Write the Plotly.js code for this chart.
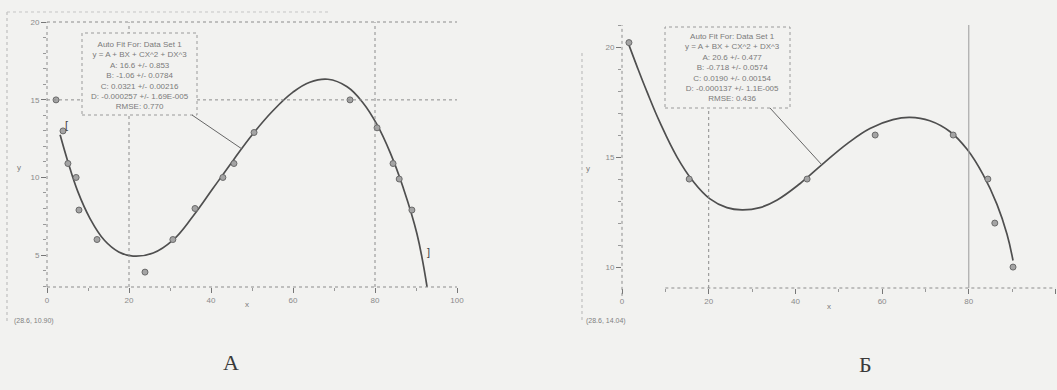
<!DOCTYPE html>
<html><head><meta charset="utf-8">
<script src="https://cdn.plot.ly/plotly-3.0.1.min.js"></script>
<style>html,body{margin:0;padding:0;background:#f2f2f0;}#chart{width:1057px;height:390px;}</style>
</head><body><div id="chart"></div>
<script>
// ---- Chart А data ----
const A_pts_x = [2.2, 3.9, 5.1, 7.1, 7.8, 12.2, 23.9, 30.7, 36.1, 42.9, 45.6, 50.5, 73.9, 80.5, 84.4, 85.9, 89.0];
const A_pts_y = [15.0, 13.0, 10.9, 10.0, 7.9, 6.0, 3.9, 6.0, 8.0, 10.0, 10.9, 12.9, 15.0, 13.2, 10.9, 9.9, 7.9];
const A_fit_x = [3.2, 5.0, 7.5, 10.5, 14.0, 17.5, 21.0, 25.9, 30.7, 35.6, 40.5, 45.4, 50.2, 55.1, 60.0, 64.1, 68.5, 73.2, 77.1, 80.5, 83.7, 86.8, 90.2, 92.7];
const A_fit_y = [12.75, 11.1, 9.1, 7.35, 5.95, 5.2, 4.93, 5.13, 5.96, 7.5, 9.3, 11.1, 12.8, 14.3, 15.5, 16.14, 16.33, 15.85, 14.8, 13.4, 11.6, 9.4, 6.4, 2.94];
const A_fit_text = ["Auto Fit For: Data Set 1", "y = A + BX + CX^2 + DX^3", "A: 16.6 +/- 0.853", "B: -1.06 +/- 0.0784",
  "C: 0.0321 +/- 0.00216", "D: -0.000257 +/- 1.69E-005", "RMSE: 0.770"];
const A_reader = "(28.6, 10.90)";

// ---- Chart Б data ----
const B_pts_x = [1.6, 15.5, 42.7, 58.4, 76.4, 84.4, 86.0, 90.2];
const B_pts_y = [20.2, 14.0, 14.0, 16.0, 16.0, 14.0, 12.0, 10.0];
const B_fit_x = [1.4, 3.5, 5.8, 8.8, 12.7, 16.4, 20.3, 24.2, 27.7, 31.8, 35.8, 41.1, 46.4, 51.9, 57.2, 62.5, 66.4, 71.0, 75.7, 79.6, 83.3, 86.5, 88.8, 90.2];
const B_fit_y = [20.2, 19.1, 17.95, 16.55, 15.0, 13.9, 13.1, 12.7, 12.6, 12.7, 13.05, 13.8, 14.7, 15.6, 16.3, 16.7, 16.8, 16.65, 16.15, 15.35, 14.2, 12.85, 11.5, 10.3];
const B_fit_text = ["Auto Fit For: Data Set 1", "y = A + BX + CX^2 + DX^3", "A: 20.6 +/- 0.477", "B: -0.718 +/- 0.0574",
  "C: 0.0190 +/- 0.00154", "D: -0.000137 +/- 1.1E-005", "RMSE: 0.436"];
const B_reader = "(28.6, 14.04)";

const panelLabels = ["А", "Б"];

// ---- layout helpers ----
const W = 1057, H = 390;
const px = v => v / W, py = v => 1 - v / H;
const FONT = "Liberation Sans, Arial, sans-serif";
const tickGray = "#8a8a8a";

const markerStyle = {symbol: "circle", size: 6, color: "#a4a4a4", line: {color: "#6a6a6a", width: 1}};
const lineStyle = {color: "#4f4f4f", width: 1.7, shape: "spline", smoothing: 1.2};

const traces = [
  {x: A_fit_x, y: A_fit_y, xaxis: "x", yaxis: "y", mode: "lines", line: lineStyle, hoverinfo: "skip"},
  {x: A_pts_x, y: A_pts_y, xaxis: "x", yaxis: "y", mode: "markers", marker: markerStyle},
  {x: B_fit_x, y: B_fit_y, xaxis: "x2", yaxis: "y2", mode: "lines", line: lineStyle, hoverinfo: "skip"},
  {x: B_pts_x, y: B_pts_y, xaxis: "x2", yaxis: "y2", mode: "markers", marker: markerStyle}
];

function axisBase(extra) {
  return Object.assign({
    showgrid: false, zeroline: false, showline: false,
    ticks: "outside", ticklen: 5, tickwidth: 1, tickcolor: "#777",
    tickfont: {family: FONT, size: 8, color: tickGray}
  }, extra);
}
const minorX = {ticks: "outside", ticklen: 3, tickcolor: "#999", dtick: 10, showgrid: false};
const minorY = {ticks: "outside", ticklen: 3, tickcolor: "#999", dtick: 1, showgrid: false};

const dot = {color: "#8c8c8c", width: 1, dash: "dot"};
const shapes = [
  // chart A frame & grid
  {type: "line", xref: "paper", yref: "paper", x0: px(7), x1: px(7), y0: py(12), y1: py(322), line: {color: "#b5b5b5", width: 1, dash: "dot"}},
  {type: "line", xref: "paper", yref: "paper", x0: px(7), x1: px(330), y0: py(12), y1: py(12), line: {color: "#c5c5c5", width: 1, dash: "dot"}},
  {type: "line", xref: "x domain", yref: "y domain", x0: 0, x1: 0, y0: 0, y1: 1, line: dot},
  {type: "line", xref: "x domain", yref: "y domain", x0: 0, x1: 1, y0: 0, y1: 0, line: dot},
  {type: "line", xref: "x domain", yref: "y domain", x0: 0, x1: 1, y0: 1, y1: 1, line: dot},
  {type: "line", xref: "x domain", yref: "y", x0: 0, x1: 1, y0: 15, y1: 15, line: dot},
  {type: "line", xref: "x", yref: "y domain", x0: 20, x1: 20, y0: 0, y1: 1, line: dot},
  {type: "line", xref: "x", yref: "y domain", x0: 80, x1: 80, y0: 0, y1: 1, line: dot},
  {type: "rect", xref: "paper", yref: "paper", x0: px(82), x1: px(197), y0: py(115), y1: py(33), fillcolor: "#f2f2f0", line: {color: "#9a9a9a", width: 1, dash: "dot"}},
  {type: "line", xref: "paper", yref: "paper", x0: px(192), x1: px(242), y0: py(115), y1: py(149), line: {color: "#666", width: 1}},
  // chart Б frame & grid
  {type: "line", xref: "paper", yref: "paper", x0: px(582), x1: px(582), y0: py(53), y1: py(322), line: {color: "#b5b5b5", width: 1, dash: "dot"}},
  {type: "line", xref: "x2 domain", yref: "y2 domain", x0: 0, x1: 0, y0: -0.03, y1: 1, line: dot},
  {type: "line", xref: "x2 domain", yref: "y2 domain", x0: 0.1, x1: 1, y0: 0, y1: 0, line: dot},
  {type: "line", xref: "x2", yref: "y2 domain", x0: 20, x1: 20, y0: 0, y1: 1, line: dot},
  {type: "line", xref: "x2", yref: "y2 domain", x0: 80, x1: 80, y0: 0, y1: 1, line: {color: "#9a9a9a", width: 1}},
  {type: "rect", xref: "paper", yref: "paper", x0: px(665), x1: px(790), y0: py(108), y1: py(27), fillcolor: "#f2f2f0", line: {color: "#9a9a9a", width: 1, dash: "dot"}},
  {type: "line", xref: "paper", yref: "paper", x0: px(770), x1: px(822), y0: py(108), y1: py(165), line: {color: "#666", width: 1}}
];

const smallFont = {family: FONT, size: 8, color: "#7a7a7a"};
const annotations = [
  {xref: "paper", yref: "paper", x: px(140), y: py(75), xanchor: "center", yanchor: "middle", showarrow: false, align: "center",
   text: A_fit_text.join("<br>"), font: smallFont},
  {xref: "paper", yref: "paper", x: px(732), y: py(67), xanchor: "center", yanchor: "middle", showarrow: false, align: "center",
   text: B_fit_text.join("<br>"), font: smallFont},
  {xref: "paper", yref: "paper", x: px(63), y: py(117), showarrow: false, text: "[", font: {family: FONT, size: 11, color: "#444"}},
  {xref: "paper", yref: "paper", x: px(428), y: py(252), showarrow: false, text: "]", font: {family: FONT, size: 11, color: "#444"}},
  {xref: "paper", yref: "paper", x: px(243), y: py(311), showarrow: false, text: "x", font: smallFont},
  {xref: "paper", yref: "paper", x: px(15), y: py(167), showarrow: false, text: "y", font: smallFont},
  {xref: "paper", yref: "paper", x: px(833), y: py(313), showarrow: false, text: "x", font: smallFont},
  {xref: "paper", yref: "paper", x: px(588), y: py(168), showarrow: false, text: "y", font: smallFont},
  {xref: "paper", yref: "paper", x: px(12), y: py(327), xanchor: "left", showarrow: false, text: A_reader, font: {family: FONT, size: 7, color: "#808080"}},
  {xref: "paper", yref: "paper", x: px(584), y: py(327), xanchor: "left", showarrow: false, text: B_reader, font: {family: FONT, size: 7, color: "#808080"}},
  {xref: "paper", yref: "paper", x: px(221), y: py(377), showarrow: false, text: panelLabels[0], font: {family: "Liberation Serif, DejaVu Serif, serif", size: 22, color: "#3a3a3a"}},
  {xref: "paper", yref: "paper", x: px(874), y: py(379), showarrow: false, text: panelLabels[1], font: {family: "Liberation Serif, DejaVu Serif, serif", size: 22, color: "#3a3a3a"}}
];

const layout = {
  width: W, height: H,
  margin: {l: 0, r: 0, t: 0, b: 0},
  paper_bgcolor: "#f2f2f0", plot_bgcolor: "rgba(0,0,0,0)",
  showlegend: false,
  font: {family: FONT},
  xaxis: axisBase({domain: [px(47), px(457)], range: [0, 100], dtick: 20, tick0: 0, anchor: "y", minor: minorX}),
  yaxis: axisBase({domain: [py(287), py(22)], range: [2.94, 20.02], dtick: 5, tick0: 0, anchor: "x", minor: minorY}),
  xaxis2: axisBase({domain: [px(622), px(1055.5)], range: [0, 100], dtick: 20, tick0: 0, anchor: "y2", minor: minorX}),
  yaxis2: axisBase({domain: [py(288), py(25)], range: [9.05, 21], dtick: 5, tick0: 0, anchor: "x2", minor: minorY}),
  shapes: shapes,
  annotations: annotations
};

Plotly.newPlot("chart", traces, layout, {displayModeBar: false, staticPlot: true});
</script></body></html>
